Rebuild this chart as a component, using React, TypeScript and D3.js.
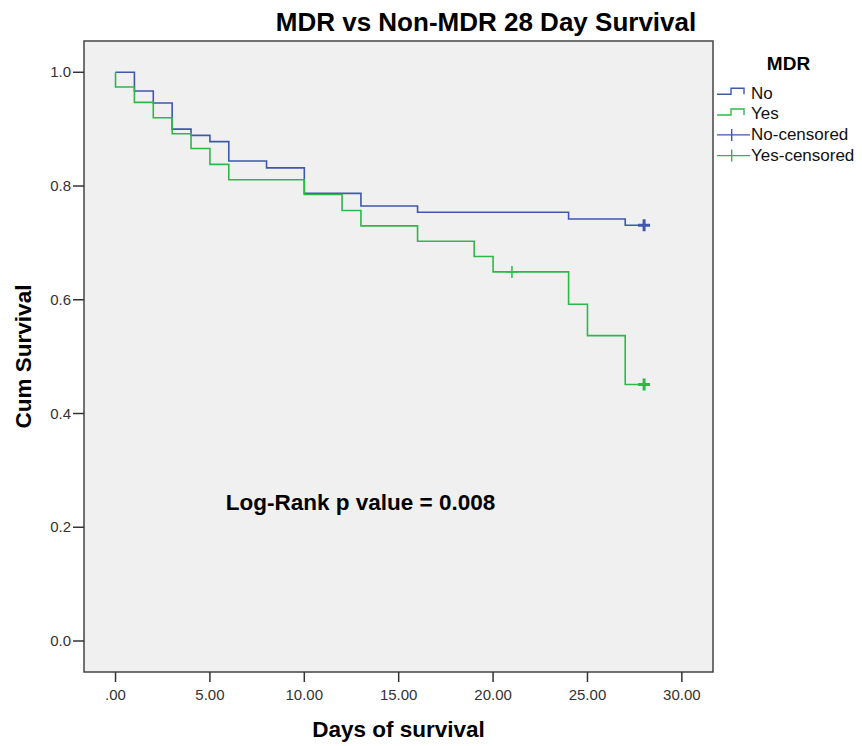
import React from "react";
import * as d3 from "d3";

// ---- Data ----
const noTimes = [0, 1, 2, 3, 4, 5, 6, 8, 10, 13, 16, 24, 27, 28];
const noSurv = [1.0, 0.967, 0.946, 0.9, 0.889, 0.878, 0.844, 0.832, 0.787, 0.765, 0.754, 0.742, 0.731, 0.731];
const yesTimes = [0, 0, 1, 2, 3, 4, 5, 6, 10, 12, 13, 16, 19, 20, 24, 25, 27, 28];
const yesSurv = [1.0, 0.974, 0.947, 0.92, 0.892, 0.866, 0.838, 0.811, 0.785, 0.757, 0.73, 0.703, 0.676, 0.649, 0.592, 0.537, 0.451, 0.451];
const noCensorTimes = [28];
const noCensorWeight = [3];
const yesCensorTimes = [21, 28];
const yesCensorWeight = [1.5, 3];

const xTicks = [0, 5, 10, 15, 20, 25, 30];
const xTickLabels = [".00", "5.00", "10.00", "15.00", "20.00", "25.00", "30.00"];
const yTicks = [0, 0.2, 0.4, 0.6, 0.8, 1.0];
const yTickLabels = ["0.0", "0.2", "0.4", "0.6", "0.8", "1.0"];

const legendTitle = "MDR";
const legendLabels = ["No", "Yes", "No-censored", "Yes-censored"];

const BLUE = "#3E58AC";
const GREEN = "#2EB848";
const FONT = "'Liberation Sans', Arial, sans-serif";

const W = 862;
const H = 746;
const L = 84, T = 41, R = 713, B = 672;

const x = d3.scaleLinear().domain([-1.67, 31.65]).range([L, R]);
const y = d3.scaleLinear().domain([-0.0545, 1.055]).range([B, T]);

const line = d3
  .line<[number, number]>()
  .x((d) => x(d[0]))
  .y((d) => y(d[1]))
  .curve(d3.curveStepAfter);

function survAt(times: number[], surv: number[], t: number) {
  let s = surv[0];
  for (let i = 0; i < times.length; i++) if (times[i] <= t) s = surv[i];
  return s;
}

export default function App() {
  const noPts = noTimes.map((t, i) => [t, noSurv[i]] as [number, number]);
  const yesPts = yesTimes.map((t, i) => [t, yesSurv[i]] as [number, number]);
  const plus = (cx: number, cy: number, color: string, w: number, key: string) => (
    <g key={key} stroke={color} strokeWidth={w}>
      <line x1={cx - 6} x2={cx + 6} y1={cy} y2={cy} />
      <line x1={cx} x2={cx} y1={cy - 6} y2={cy + 6} />
    </g>
  );
  const legBase = (i: number) => 98.5 + i * 20.7;
  return (
    <svg
      width={W}
      height={H}
      style={{ position: "absolute", left: 0, top: 0, background: "#fff" }}
      fontFamily={FONT}
    >
      <rect x={0} y={0} width={W} height={H} fill="#fff" />
      <text x={486} y={31} textAnchor="middle" fontSize={26} fontWeight="bold" fill="#000">
        MDR vs Non-MDR 28 Day Survival
      </text>
      <rect x={L} y={T} width={R - L} height={B - T} fill="#f0f0f0" stroke="#444" strokeWidth={1.5} />

      {/* y axis */}
      {yTicks.map((v, i) => (
        <g key={"y" + i}>
          <line x1={L - 11} x2={L} y1={y(v)} y2={y(v)} stroke="#333" strokeWidth={1.5} />
          <text x={L - 13} y={y(v) + 5} textAnchor="end" fontSize={15} fill="#333">
            {yTickLabels[i]}
          </text>
        </g>
      ))}
      {/* x axis */}
      {xTicks.map((v, i) => (
        <g key={"x" + i}>
          <line x1={x(v)} x2={x(v)} y1={B} y2={B + 10} stroke="#333" strokeWidth={1.5} />
          <text x={x(v)} y={700} textAnchor="middle" fontSize={15} fill="#333">
            {xTickLabels[i]}
          </text>
        </g>
      ))}

      <text x={(L + R) / 2} y={737} textAnchor="middle" fontSize={22.5} fontWeight="bold" fill="#000">
        Days of survival
      </text>
      <text
        transform={`translate(31,${(T + B) / 2}) rotate(-90)`}
        textAnchor="middle"
        fontSize={22.5}
        fontWeight="bold"
        fill="#000"
      >
        Cum Survival
      </text>

      {/* curves */}
      <path d={line(noPts) || ""} fill="none" stroke={BLUE} strokeWidth={1.6} />
      <path d={line(yesPts) || ""} fill="none" stroke={GREEN} strokeWidth={1.6} />
      {noCensorTimes.map((t, i) =>
        plus(x(t), y(survAt(noTimes, noSurv, t)), BLUE, noCensorWeight[i], "nc" + i)
      )}
      {yesCensorTimes.map((t, i) =>
        plus(x(t), y(survAt(yesTimes, yesSurv, t)), GREEN, yesCensorWeight[i], "yc" + i)
      )}

      <text x={360.5} y={510} textAnchor="middle" fontSize={22.5} fontWeight="bold" fill="#000">
        Log-Rank p value = 0.008
      </text>

      {/* legend */}
      <text x={788.5} y={69.5} textAnchor="middle" fontSize={19} fontWeight="bold" fill="#000">
        {legendTitle}
      </text>
      {legendLabels.map((lab, i) => {
        const b = legBase(i);
        const color = i % 2 === 0 ? BLUE : GREEN;
        return (
          <g key={"leg" + i}>
            {i < 2 ? (
              <path
                d={`M717,${b - 4.2}H731V${b - 10.2}H744V${b - 4.2}`}
                fill="none"
                stroke={color}
                strokeWidth={1.4}
              />
            ) : (
              <g stroke={color} strokeWidth={1.4}>
                <line x1={717} x2={750} y1={b - 5} y2={b - 5} />
                <line x1={731.7} x2={731.7} y1={b - 11} y2={b + 1} />
              </g>
            )}
            <text x={751} y={b} fontSize={17} fill="#111">
              {lab}
            </text>
          </g>
        );
      })}
    </svg>
  );
}
